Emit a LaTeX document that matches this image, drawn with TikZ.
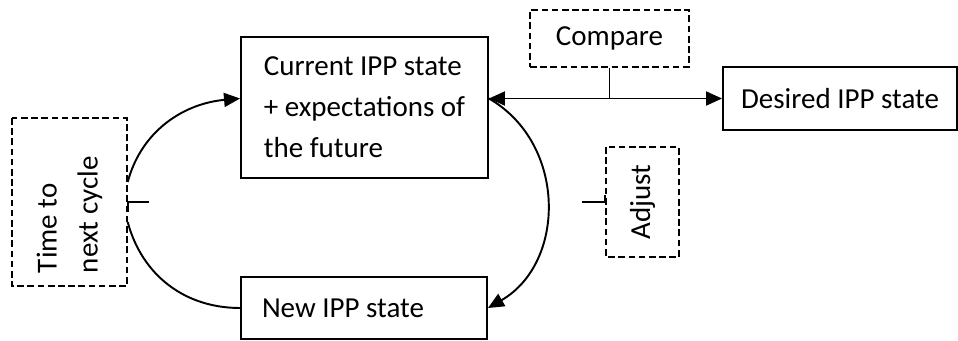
\documentclass[tikz,border=0pt]{standalone}
\usepackage{fontspec}
\setmainfont{Carlito}
\usetikzlibrary{arrows.meta}

\begin{document}
\begin{tikzpicture}[
        >={Triangle[length=0.32cm,width=0.28cm]},
        box/.style={draw, line width=1.1pt, inner sep=0pt},
        dbox/.style={draw, dash pattern=on 3.8pt off 2pt, line width=0.8pt, inner sep=0pt},
        link/.style={line width=1.1pt},
        font=\fontsize{16.5}{23.3}\selectfont
    ]
        \useasboundingbox (0,0) rectangle (19.16,6.8);

        \node[box, align=flush left, minimum width=4.94cm, minimum height=2.82cm] (cur) at (7.29,4.65) {Current IPP state\\+ expectations of\\the future};
        \node[box, align=flush left, text width=4.08cm, inner xsep=0.42cm, minimum height=1.24cm] (new) at (7.28,0.64) {New IPP state};
        \node[box, minimum width=4.68cm, minimum height=1.26cm] (des) at (16.8,4.83) {Desired IPP state};

        \node[dbox, minimum width=3.18cm, minimum height=1.14cm] (cmp) at (12.19,6.03) {Compare};
        \node[dbox, rotate=90, minimum width=2.2cm, minimum height=1.46cm] (adj) at (12.85,2.76) {Adjust};
        \node[dbox, rotate=90, align=flush left, text width=2.84cm, inner xsep=0.26cm, minimum height=2.3cm] (tnc) at (1.39,2.76) {Time to\\next cycle};

        \coordinate (hit) at (cur.east |- des.west);
        \draw[link, <->] (hit) -- (des.west);
        \draw[link] (cmp.south) -- (cmp.south |- des.west);
        \draw[link, ->] (hit) to[out=-30, in=30, looseness=1.1] (new.east);
        \draw[link] (adj.north) ++(0,0.14) -- (adj.north) -- ++(-0.46,0);

        \draw[link, ->] ([yshift=0.4cm]tnc.south) to[out=75, in=185] (cur.west |- des.west);
        \draw[link] ([yshift=-0.4cm]tnc.south) to[out=-75, in=180] (new.west);
        \draw[link] (tnc.south) ++(0,-0.2) -- (tnc.south) -- ++(0.42,0);
\end{tikzpicture}
\end{document}
